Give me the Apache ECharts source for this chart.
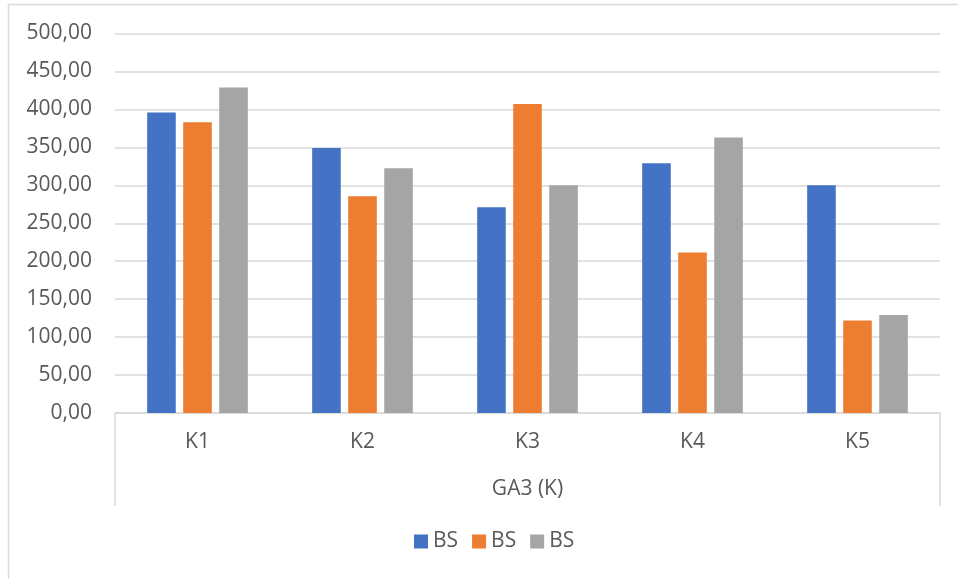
<!DOCTYPE html>
<html>
<head>
<meta charset="utf-8">
<script src="https://cdn.jsdelivr.net/npm/echarts@6/dist/echarts.min.js"></script>
<style>
  html, body { margin: 0; padding: 0; background: #ffffff; }
  #chart { width: 958px; height: 579px; }
</style>
</head>
<body>
<div id="chart"></div>
<script>
// Categories and the three BS series
const categories = ['K1', 'K2', 'K3', 'K4', 'K5'];
const seriesA = [396, 349, 271, 329, 300];
const seriesB = [383, 285.5, 407, 211.5, 122];
const seriesC = [429, 322.5, 300, 363, 129];
const legendLabel = 'BS';
const groupLabel = 'GA3 (K)';
const yTicks = { min: 0, max: 500, interval: 50 };

const textColor = '#595959';
const lineColor = '#d9d9d9';
const fontFamily = '"Open Sans", "Noto Sans", sans-serif';
const fontSize = 21;
const colors = ['#4472C4', '#ED7D31', '#A5A5A5'];

const chart = echarts.init(document.getElementById('chart'), null, { renderer: 'canvas' });

function barSeries(id, values, color) {
  return {
    name: id,
    type: 'bar',
    data: values,
    barGap: '26%',
    barCategoryGap: '39%',
    itemStyle: { color: color },
    emphasis: { disabled: true },
    animation: false
  };
}

chart.setOption({
  animation: false,
  textStyle: { fontFamily: fontFamily },
  graphic: [{
    type: 'rect',
    silent: true,
    shape: { x: 8.5, y: 4.5, width: 1200, height: 1200 },
    style: { fill: 'none', stroke: lineColor, lineWidth: 1.5 }
  }],
  grid: { left: 115, right: 18, top: 33.5, bottom: 166, containLabel: false },
  legend: {
    left: 414,
    top: 531,
    padding: 0,
    itemWidth: 14,
    itemHeight: 14,
    itemGap: 14,
    icon: 'rect',
    formatter: function () { return legendLabel; },
    textStyle: { color: textColor, fontSize: fontSize, fontFamily: fontFamily },
    data: ['s1', 's2', 's3']
  },
  xAxis: [{
    type: 'category',
    data: categories,
    axisLine: { show: true, lineStyle: { color: lineColor, width: 1.5 } },
    axisTick: { show: false },
    axisLabel: { color: textColor, fontSize: fontSize, margin: 19, fontFamily: fontFamily },
    name: groupLabel,
    nameLocation: 'middle',
    nameGap: 66,
    nameTextStyle: { color: textColor, fontSize: fontSize, fontFamily: fontFamily }
  }, {
    // outer frame of the grouped category axis
    type: 'category',
    data: [''],
    position: 'bottom',
    offset: 93,
    axisLine: { show: false },
    axisTick: { show: true, inside: true, length: 93, lineStyle: { color: lineColor, width: 1.5 } },
    axisLabel: { show: false }
  }],
  yAxis: {
    type: 'value',
    min: yTicks.min,
    max: yTicks.max,
    interval: yTicks.interval,
    axisLine: { show: false },
    axisTick: { show: false },
    splitLine: { lineStyle: { color: lineColor, width: 1.5 } },
    axisLabel: {
      color: textColor,
      fontSize: fontSize,
      margin: 23,
      fontFamily: fontFamily,
      formatter: function (v) { return v.toFixed(2).replace('.', ','); }
    }
  },
  series: [
    barSeries('s1', seriesA, colors[0]),
    barSeries('s2', seriesB, colors[1]),
    barSeries('s3', seriesC, colors[2])
  ]
});
</script>
</body>
</html>
